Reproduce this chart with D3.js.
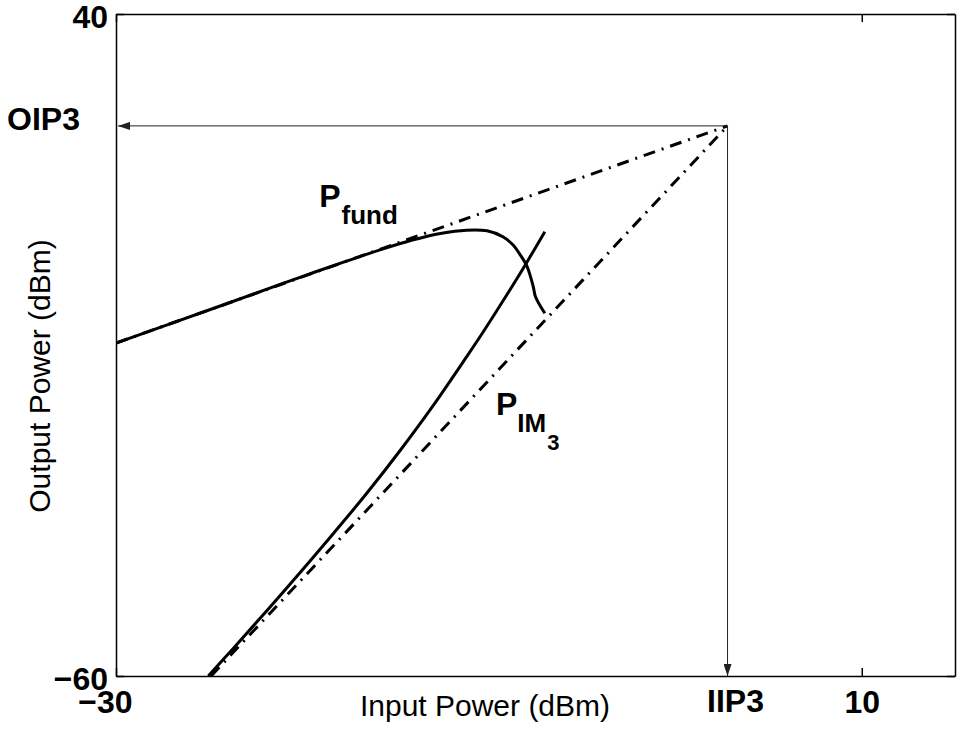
<!DOCTYPE html>
<html>
<head>
<meta charset="utf-8">
<script src="https://cdn.jsdelivr.net/npm/d3@7"></script>
<style>
    body { margin: 0; background: #fff; }
    svg { display: block; font-family: "Liberation Sans", Arial, Helvetica, sans-serif; }
    .axis path, .axis line { stroke: #000; stroke-width: 1.5; }
    .axis text { font-family: "Liberation Sans", Arial, sans-serif; font-size: 32px; font-weight: bold; fill: #000; }
    .bold { font-weight: bold; }
</style>
</head>
<body>
<svg id="chart" width="957" height="731"></svg>
<script>
// Intercept point
const IIP3 = 2.8;
const OIP3 = 23.1;

// Axes
const xDomain = [-30, 15];
const yDomain = [-60, 40];
const xTicks = [-30, 10];
const yTicks = [-60, 40];

// Fundamental output (solid)
const fundX = [-30, -24.6, -21.2, -19.4, -17.6, -15.8, -14.1, -12.6, -11.2, -10.1, -9.25, -8.7, -8.35, -7.95, -7.62, -7.5, -7.0];
const fundY = [-9.7, -4.3, -0.85, 0.95, 2.7, 4.4, 5.85, 6.85, 7.35, 7.25, 6.35, 5.1, 3.75, 1.85, -1.2, -2.7, -5.2];

// Third-order intermod output (solid)
const im3X = [-25.05, -23.7, -21.9, -20.1, -18.35, -16.55, -14.75, -13.0, -11.2, -10.3, -8.7, -8.05, -7.0];
const im3Y = [-60.0, -55.8, -50.1, -44.3, -38.5, -32.4, -25.9, -19.2, -11.8, -8.0, -0.9, 2.1, 7.1];

// Extrapolated asymptotes (dash-dot)
const fundAsymX = [-30, IIP3];
const fundAsymY = [-9.7, OIP3];
const im3AsymX = [-24.9, IIP3];
const im3AsymY = [-60, OIP3];

const CONFIG = {
    width: 957,
    height: 731,
    margin: { top: 14, right: 2, bottom: 55, left: 116 },
    tickLen: 8,
    curveWidth: 3,
    dashDot: '12,7,2,7'
};

function init() {
    const svg = d3.select('#chart');
    const m = CONFIG.margin;
    const W = CONFIG.width - m.left - m.right;
    const H = CONFIG.height - m.top - m.bottom;

    const x = d3.scaleLinear().domain(xDomain).range([m.left, m.left + W]);
    const y = d3.scaleLinear().domain(yDomain).range([m.top + H, m.top]);

    svg.append('defs').append('clipPath').attr('id', 'plot-clip')
        .append('rect')
        .attr('x', m.left).attr('y', m.top).attr('width', W).attr('height', H);

    const marker = svg.select('defs').append('marker')
        .attr('id', 'arrow')
        .attr('viewBox', '0 0 12 8')
        .attr('refX', 12).attr('refY', 4)
        .attr('markerUnits', 'userSpaceOnUse')
        .attr('markerWidth', 12).attr('markerHeight', 8)
        .attr('orient', 'auto');
    marker.append('path').attr('d', 'M0,0 L12,4 L0,8 Z').attr('fill', '#222');

    const fmt = d => d < 0 ? '\u2212' + Math.abs(d) : d;

    // Axes box
    svg.append('g').attr('class', 'axis')
        .attr('transform', `translate(0,${m.top + H})`)
        .call(d3.axisBottom(x).tickValues(xTicks).tickSizeInner(-CONFIG.tickLen).tickSizeOuter(0)
            .tickPadding(14).tickFormat(fmt))
        .selectAll('text')
        .attr('dx', d => d === -30 ? -11 : 0);

    svg.append('g').attr('class', 'axis')
        .attr('transform', `translate(0,${m.top})`)
        .call(d3.axisTop(x).tickValues(xTicks).tickSizeInner(-CONFIG.tickLen).tickSizeOuter(0).tickFormat(''));

    svg.append('g').attr('class', 'axis')
        .attr('transform', `translate(${m.left},0)`)
        .call(d3.axisLeft(y).tickValues(yTicks).tickSizeInner(-CONFIG.tickLen).tickSizeOuter(0)
            .tickPadding(8).tickFormat(fmt))
        .selectAll('text')
        .attr('dy', '0.32em')
        .attr('y', 3);

    svg.append('g').attr('class', 'axis')
        .attr('transform', `translate(${m.left + W},0)`)
        .call(d3.axisRight(y).tickValues(yTicks).tickSizeInner(-CONFIG.tickLen).tickSizeOuter(0).tickFormat(''));

    const plot = svg.append('g').attr('clip-path', 'url(#plot-clip)');

    const zip = (xs, ys) => xs.map((v, i) => [v, ys[i]]);
    const line = d3.line().x(d => x(d[0])).y(d => y(d[1]));
    const smooth = d3.line().x(d => x(d[0])).y(d => y(d[1])).curve(d3.curveCatmullRom.alpha(0.5));

    // Dash-dot asymptotes
    [zip(fundAsymX, fundAsymY), zip(im3AsymX, im3AsymY)].forEach(pts => {
        plot.append('path')
            .attr('d', line(pts))
            .attr('fill', 'none')
            .attr('stroke', '#000')
            .attr('stroke-width', CONFIG.curveWidth)
            .attr('stroke-dasharray', CONFIG.dashDot);
    });

    // Solid curves
    [zip(fundX, fundY), zip(im3X, im3Y)].forEach(pts => {
        plot.append('path')
            .attr('d', smooth(pts))
            .attr('fill', 'none')
            .attr('stroke', '#000')
            .attr('stroke-width', CONFIG.curveWidth)
            .attr('stroke-linejoin', 'round');
    });

    // Arrows from the intercept point to the axes
    svg.append('line')
        .attr('x1', x(IIP3)).attr('y1', y(OIP3))
        .attr('x2', x(xDomain[0]) + 2).attr('y2', y(OIP3))
        .attr('stroke', '#222').attr('stroke-width', 1)
        .attr('marker-end', 'url(#arrow)');
    svg.append('line')
        .attr('x1', x(IIP3)).attr('y1', y(OIP3))
        .attr('x2', x(IIP3)).attr('y2', y(yDomain[0]))
        .attr('stroke', '#222').attr('stroke-width', 1)
        .attr('marker-end', 'url(#arrow)');

    // Intercept labels
    svg.append('text')
        .attr('class', 'bold')
        .attr('x', x(xDomain[0]) - 36).attr('y', y(OIP3) + 4)
        .attr('text-anchor', 'end')
        .style('font-size', '32px')
        .text('OIP3');
    svg.append('text')
        .attr('class', 'bold')
        .attr('x', x(IIP3) + 8).attr('y', m.top + H + 36)
        .attr('text-anchor', 'middle')
        .style('font-size', '32px')
        .text('IIP3');

    // Curve labels
    const fundLabel = svg.append('text').attr('class', 'bold')
        .attr('x', x(-19.1)).attr('y', y(10.85))
        .style('font-size', '32px');
    fundLabel.append('tspan').text('P');
    fundLabel.append('tspan').attr('dx', 1).attr('dy', 17).style('font-size', '26px').text('fund');

    const im3Label = svg.append('text').attr('class', 'bold')
        .attr('x', x(-9.62)).attr('y', y(-20.57))
        .style('font-size', '32px');
    im3Label.append('tspan').text('P');
    im3Label.append('tspan').attr('dx', 0).attr('dy', 17).style('font-size', '26px').text('IM');
    im3Label.append('tspan').attr('dx', 1).attr('dy', 18).style('font-size', '22px').text('3');

    // Axis titles
    svg.append('text')
        .attr('x', 485).attr('y', m.top + H + 40)
        .attr('text-anchor', 'middle')
        .style('font-size', '30px')
        .text('Input Power (dBm)');
    svg.append('text')
        .attr('transform', `translate(50,376) rotate(-90)`)
        .attr('text-anchor', 'middle')
        .style('font-size', '30px')
        .text('Output Power (dBm)');
}

document.addEventListener('DOMContentLoaded', init);
</script>
</body>
</html>
